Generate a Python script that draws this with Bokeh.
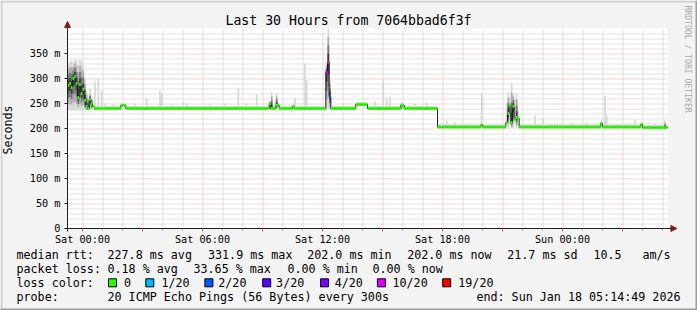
import numpy as np
from bokeh.plotting import figure
from bokeh.models import (Range1d, FixedTicker, Label, Arrow, NormalHead,
                          BoxAnnotation, ColumnDataSource)
from bokeh.embed import file_html
from bokeh.resources import INLINE

# ---------------- data ----------------
title_text = "Last 30 Hours from 7064bbad6f3f"
start_hour = -0.75          # Fri 23:15, hours relative to Sat 00:00
end_hour = 29.25            # Sun 05:15
step_hours = 5 / 60         # 5 minute steps
n_steps = 360
y_max_ms = 400

x_tick_hours = [0, 6, 12, 18, 24]
x_tick_labels = ["Sat 00:00", "Sat 06:00", "Sat 12:00", "Sat 18:00", "Sun 00:00"]
y_tick_ms = [0, 50, 100, 150, 200, 250, 300, 350]
y_tick_labels = ["0", "50 m", "100 m", "150 m", "200 m", "250 m", "300 m", "350 m"]

# median rtt (ms): value changes at these hours (step function)
median_break_hours = [-0.75, -0.667, -0.583, -0.5, -0.417, -0.333, -0.25, -0.167,
                      -0.083, 0.0, 0.083, 0.167, 0.25, 0.333, 0.417, 0.5, 0.583,
                      1.9, 2.15, 9.3, 9.45, 9.7, 9.8, 10.5, 10.6,
                      12.2, 12.283, 12.367, 12.45, 13.65, 14.25, 15.95, 16.05,
                      17.75, 19.9, 20.0,
                      21.15, 21.233, 21.317, 21.4, 21.483, 21.567, 21.65, 21.733, 21.817,
                      25.9, 26.0, 27.9, 28.0]
median_break_ms = [286, 290, 282, 300, 304, 290, 262, 288,
                   270, 278, 256, 244, 240, 258, 250, 244, 240,
                   246, 240, 250, 240, 246, 240, 244, 240,
                   313, 332, 264, 240, 248, 240, 246, 240,
                   203, 207, 203,
                   212, 230, 246, 212, 244, 218, 222, 220, 203,
                   210, 203, 208, 202]

# packet loss (out of 20) changes
loss_break_hours = [12.2, 12.367, 12.45]
loss_break_count = [10, 2, 0]

# smoke: early turbulent period, max ping per step (ms)
early_smoke_top_ms = [330, 334, 336, 332, 338, 336, 328, 338, 334, 326, 300, 276, 262, 272, 262]
early_smoke_low_ms = 236

# single light outliers (hour, max ms)
light_spike_hours = [0.35, 0.6, 0.75, 0.9, 1.1, 1.5, 2.6, 3.2, 3.8, 3.95, 4.4, 5.0, 5.2,
                     6.3, 7.1, 7.75, 8.2, 8.7, 10.55, 11.05, 11.15, 13.0, 14.6,
                     15.0, 15.15, 15.3, 16.6, 17.2, 18.15, 18.6, 19.9, 21.15, 21.317,
                     21.567, 21.733, 22.55,
                     23.0, 23.6, 24.4, 25.2, 26.1, 26.2, 27.55, 28.0, 28.6, 29.05]
light_spike_top_ms = [280, 294, 302, 276, 250, 248, 250, 260, 276, 270, 248, 252, 250,
                      248, 250, 282, 250, 268, 262, 330, 296, 250, 254,
                      296, 262, 264, 250, 252, 216, 212, 270, 250, 262,
                      258, 236, 226,
                      220, 210, 212, 212, 266, 226, 216, 212, 210, 216]

# dense (dark) smoke (hour, max ms, min ms)
dark_spike_hours = [9.4, 9.7, 12.2, 12.283, 12.367, 15.95,
                    21.233, 21.4, 21.483, 21.65, 29.05]
dark_spike_top_ms = [272, 270, 330, 400, 296, 252,
                     272, 292, 270, 270, 214]
dark_spike_low_ms = [238, 238, 238, 238, 238, 238,
                     201, 201, 201, 201, 201]

loss_levels = [0, 1, 2, 3, 4, 10, 19]
loss_colors = ["#26ff00", "#00b8ff", "#0059ff", "#5e00ff", "#7e00ff", "#dd00ff", "#ff0000"]
loss_legend = ["0", "1/20", "2/20", "3/20", "4/20", "10/20", "19/20"]

# ---------------- build per-step series ----------------
t = start_hour + np.arange(n_steps) * step_hours


def idx(h):
    return int(round((h - start_hour) / step_hours))


med = np.zeros(n_steps)
for h, v in zip(median_break_hours, median_break_ms):
    med[idx(h):] = v
loss = np.zeros(n_steps, dtype=int)
for h, v in zip(loss_break_hours, loss_break_count):
    loss[idx(h):] = v

lo = med - 2
top_light = med + 5
top_dark = med + 2
for i, v in enumerate(early_smoke_top_ms):
    top_dark[i] = v
    lo[i] = early_smoke_low_ms
for h, v in zip(light_spike_hours, light_spike_top_ms):
    k = idx(h)
    top_light[k] = max(top_light[k], v)
for h, v, l in zip(dark_spike_hours, dark_spike_top_ms, dark_spike_low_ms):
    k = idx(h)
    top_dark[k] = v
    lo[k] = min(lo[k], l)

# ---------------- figure: frame = whole canvas ----------------
W, H = 697, 310
FONT = "DejaVu Sans Mono"
PX_L, PX_B = 67, 228          # pixel position of plot origin
PX_PER_H = 20.0
PX_PER_MS = 0.5
x0r = start_hour - PX_L / PX_PER_H
x1r = start_hour + (W - PX_L) / PX_PER_H
y0r = -(H - PX_B) / PX_PER_MS
y1r = PX_B / PX_PER_MS

p = figure(width=W, height=H, output_backend="svg", toolbar_location=None,
           x_range=Range1d(x0r, x1r), y_range=Range1d(y0r, y1r), min_border=0)
p.min_border_left = p.min_border_right = p.min_border_top = p.min_border_bottom = 0
p.background_fill_color = "#f3f3f3"
p.border_fill_color = "#f3f3f3"
p.outline_line_color = None
p.xgrid.visible = False
p.ygrid.visible = False

# plot canvas
p.quad(left=[start_hour], right=[end_hour], bottom=[0], top=[y_max_ms],
       fill_color="#ffffff", line_color=None)

# grid (dotted), half-pixel shifted for crisp dots
hx = 0.5 / PX_PER_H
hy = 0.5 / PX_PER_MS
minor_h = [h for h in range(0, 30) if h % 3]
major_h = list(range(0, 30, 3))
minor_v = [v for v in range(10, 400, 10) if v % 50]
major_v = list(range(50, 400, 50))
MINOR_COL, MAJOR_COL = "#c6c6c6", "#eeaaaa"
p.segment(x0=[h + hx for h in minor_h], x1=[h + hx for h in minor_h],
          y0=0, y1=y_max_ms, line_color=MINOR_COL, line_width=1, line_dash="1 1")
p.segment(x0=start_hour, x1=end_hour, y0=[v - hy for v in minor_v],
          y1=[v - hy for v in minor_v], line_color=MINOR_COL, line_width=1, line_dash="1 1")
p.segment(x0=[h + hx for h in major_h], x1=[h + hx for h in major_h],
          y0=0, y1=y_max_ms, line_color=MAJOR_COL, line_width=1, line_dash="1 1")
p.segment(x0=start_hour, x1=end_hour, y0=[v - hy for v in major_v],
          y1=[v - hy for v in major_v], line_color=MAJOR_COL, line_width=1, line_dash="1 1")

# smoke
outer_top = np.maximum(top_light, top_dark)
src = ColumnDataSource(dict(l=t, r=t + step_hours, b=lo, tp=outer_top))
p.quad(left="l", right="r", bottom="b", top="tp", source=src,
       fill_color="#d6d6d6", line_color=None)
for f, col in [(0.75, "#acacac"), (0.5, "#747474"), (0.25, "#3c3c3c")]:
    s = ColumnDataSource(dict(l=t, r=t + step_hours,
                              b=med - (med - lo) * f, tp=med + (top_dark - med) * f))
    p.quad(left="l", right="r", bottom="b", top="tp", source=s,
           fill_color=col, line_color=None)

# median: thin dark line, then thick loss-coloured steps
p.step(x=np.append(t, t[-1] + step_hours), y=np.append(med, med[-1]), mode="after",
       line_color="#202020", line_width=1)


def loss_color(c):
    col = loss_colors[0]
    for lv, cc in zip(loss_levels, loss_colors):
        if c >= lv:
            col = cc
    return col


seg = ColumnDataSource(dict(x0=t, x1=t + step_hours, y=med,
                            c=[loss_color(c) for c in loss]))
p.segment(x0="x0", x1="x1", y0="y", y1="y", source=seg, line_color="c",
          line_width=3, line_cap="butt")

# axes at the plot origin
p.xaxis.fixed_location = 0
p.yaxis.fixed_location = start_hour
p.xaxis.bounds = (start_hour - 0.15, end_hour)
p.yaxis.bounds = (-6, y_max_ms)
p.xaxis.ticker = FixedTicker(ticks=major_h, minor_ticks=minor_h)
xover = {h: "" for h in major_h}
xover.update({h: lab for h, lab in zip(x_tick_hours, x_tick_labels)})
p.xaxis.major_label_overrides = xover
p.yaxis.ticker = FixedTicker(ticks=y_tick_ms, minor_ticks=[])
p.yaxis.major_label_overrides = {v: lab for v, lab in zip(y_tick_ms, y_tick_labels)}
p.yaxis.axis_label = "Seconds"
p.yaxis.axis_label_text_font = FONT
p.yaxis.axis_label_text_font_size = "11.7px"
p.yaxis.axis_label_text_font_style = "normal"
p.yaxis.axis_label_text_color = "#000000"
p.yaxis.axis_label_standoff = 12
for ax in (p.xaxis, p.yaxis):
    ax.axis_line_color = "#1f1f1f"
    ax.major_label_text_font = FONT
    ax.major_label_text_font_size = "10.2px"
    ax.major_label_text_color = "#000000"
    ax.major_tick_in = 0
    ax.major_tick_out = 3
    ax.minor_tick_in = 0
    ax.minor_tick_out = 2
    ax.major_tick_line_color = "#d06060"
    ax.minor_tick_line_color = "#909090"
p.yaxis.major_tick_line_color = "#1f1f1f"
p.xaxis.major_label_standoff = 2
p.yaxis.major_label_standoff = 4

# axis arrows
p.add_layout(Arrow(x_start=start_hour, y_start=396, x_end=start_hour, y_end=414,
                   line_color="#1f1f1f", line_width=1,
                   end=NormalHead(size=6, fill_color="#801f1f", line_color="#801f1f")))
p.add_layout(Arrow(x_start=end_hour - 0.2, y_start=0, x_end=29.72, y_end=0,
                   line_color="#1f1f1f", line_width=1,
                   end=NormalHead(size=6, fill_color="#801f1f", line_color="#801f1f")))


# ---------------- texts (screen units: canvas, y up) ----------------
def lab(X, Y, text, size="11.7px", align="left", color="#000000", angle=0.0):
    p.add_layout(Label(x=X, y=H - Y, x_units="screen", y_units="screen",
                       text=text, text_font=FONT, text_font_size=size,
                       text_align=align, text_baseline="middle", text_color=color,
                       angle=angle))


def box(X0, X1, Y0, Y1, fill, line=None):
    p.add_layout(BoxAnnotation(left=X0, right=X1, top=H - Y0, bottom=H - Y1,
                               left_units="screen", right_units="screen",
                               top_units="screen", bottom_units="screen",
                               fill_color=fill, fill_alpha=1.0,
                               line_color=line if line else fill,
                               line_alpha=1.0 if line else 0.0,
                               line_width=1, level="overlay", editable=False))


lab(348, 19.5, title_text, size="13.2px", align="center")
lab(687, 5, "RRDTOOL / TOBI OETIKER", size="8.1px", color="#aaaaaa", angle=-np.pi / 2)

row_y = [254.3, 268.3, 282.3, 296.0]
lab(16, row_y[0], "median rtt:")
for X, s in zip([107, 207.5, 306.7, 406.7, 506.7, 593, 642],
                ["227.8 ms avg", "331.9 ms max", "202.0 ms min", "202.0 ms now",
                 "21.7 ms sd", "10.5", "am/s"]):
    lab(X, row_y[0], s)
lab(16, row_y[1], "packet loss:")
for X, s in zip([107, 193, 287, 372],
                ["0.18 % avg", "33.65 % max", "0.00 % min", "0.00 % now"]):
    lab(X, row_y[1], s)
lab(16, row_y[2], "loss color:")
for bx, tx, col, s in zip([108, 145.3, 204.4, 262.2, 320, 376.9, 442.2],
                          [123.6, 160.9, 217.8, 275.6, 334.2, 392, 457.8],
                          loss_colors, loss_legend):
    box(bx, bx + 8, row_y[2] - 4, row_y[2] + 4, col, "#000000")
    lab(tx, row_y[2], s)
lab(16, row_y[3], "probe:")
lab(107, row_y[3], "20 ICMP Echo Pings (56 Bytes) every 300s")
lab(680, row_y[3], "end: Sun Jan 18 05:14:49 2026", align="right")

# shaded frame around the picture
box(0, W, 0, 2, "#cfcfcf")
box(0, 2, 0, H, "#cfcfcf")
box(0, W, H - 2, H, "#9e9e9e")
box(W - 2, W, 0, H, "#9e9e9e")

open("out.html", "w").write(file_html(p, INLINE))
